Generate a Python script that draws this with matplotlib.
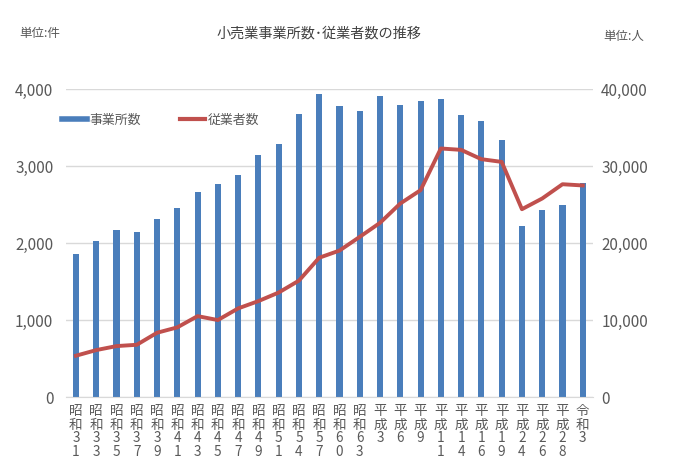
import matplotlib.pyplot as plt
import numpy as np
from matplotlib.lines import Line2D

plt.rcParams['font.family'] = ['Noto Sans CJK JP', 'DejaVu Sans']

# 年次ラベル
years = ['昭和31', '昭和33', '昭和35', '昭和37', '昭和39', '昭和41', '昭和43',
         '昭和45', '昭和47', '昭和49', '昭和51', '昭和54', '昭和57', '昭和60',
         '昭和63', '平成3', '平成6', '平成9', '平成11', '平成14', '平成16',
         '平成19', '平成24', '平成26', '平成28', '令和3']

# 事業所数 (件)
establishments = [1860, 2030, 2170, 2145, 2310, 2455, 2667, 2768, 2885, 3147,
                  3285, 3675, 3937, 3776, 3720, 3908, 3795, 3850, 3869, 3665,
                  3590, 3338, 2226, 2436, 2492, 2780]

# 従業者数 (人)
employees = [5400, 6130, 6650, 6820, 8380, 9080, 10540, 10030, 11540, 12490,
             13600, 15150, 18120, 19050, 20830, 22650, 25160, 26890, 32300,
             32120, 30910, 30560, 24420, 25810, 27660, 27500]

bar_color = '#4a7ebb'
line_color = '#c0504d'
text_color = '#595959'

fig = plt.figure(figsize=(7, 4.62), dpi=100)
ax = fig.add_axes([0.094, 0.140, 0.753, 0.667])
ax2 = ax.twinx()

x = np.arange(len(years))
ax.bar(x, establishments, width=0.3, color=bar_color, zorder=2)
ax2.plot(x, employees, color=line_color, linewidth=2.8, zorder=3)

ax.set_xlim(-0.5, len(years) - 0.5)
ax.set_ylim(0, 4000)
ax2.set_ylim(0, 40000)
ax.set_yticks([0, 1000, 2000, 3000, 4000])
ax2.set_yticks([0, 10000, 20000, 30000, 40000])
ax.set_yticklabels([f'{v:,}' for v in ax.get_yticks().astype(int)])
ax2.set_yticklabels([f'{v:,}' for v in ax2.get_yticks().astype(int)])

ax.yaxis.grid(True, color='#d9d9d9', linewidth=1, zorder=0)
ax.set_axisbelow(True)

for a in (ax, ax2):
    for s in a.spines.values():
        s.set_visible(False)
    a.tick_params(length=0, colors=text_color, labelsize=11)
ax.spines['bottom'].set_visible(True)
ax.spines['bottom'].set_color('#d9d9d9')
ax.tick_params(axis='y', pad=9)
ax2.tick_params(axis='y', pad=6)

ax.set_xticks(x)
ax.set_xticklabels(['\n'.join(y) for y in years], fontsize=9.8,
                   linespacing=0.95, va='top')
ax.tick_params(axis='x', pad=5)

fig.text(0.455, 0.928, '小売業事業所数\uff65従業者数の推移', ha='center', va='center',
         fontsize=10.2, color='#404040')
fig.text(0.028, 0.928, '単位:件', ha='left', va='center', fontsize=9, color=text_color)
fig.text(0.862, 0.922, '単位:人', ha='left', va='center', fontsize=9, color=text_color)

handles = [Line2D([], [], color=bar_color, linewidth=4),
           Line2D([], [], color=line_color, linewidth=3)]
ax.legend(handles, ['事業所数', '従業者数'], loc='upper left', ncol=2,
          bbox_to_anchor=(-0.03, 0.958), frameon=False, fontsize=9.3,
          handlelength=2.0, handletextpad=0.15, columnspacing=3.0,
          labelcolor=text_color)

fig.savefig('out.png', dpi=100, facecolor='white')
